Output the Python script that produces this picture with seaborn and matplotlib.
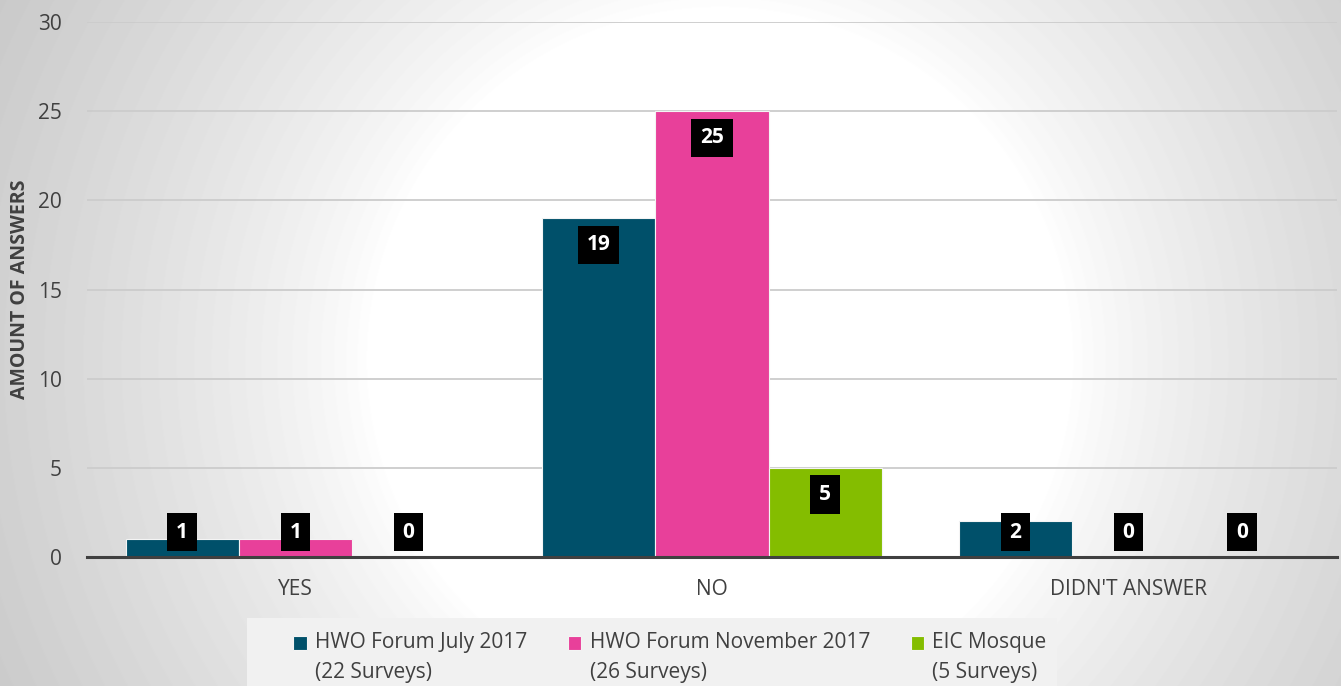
import numpy as np
import pandas as pd
import matplotlib.pyplot as plt
import seaborn as sns
from matplotlib.patches import Rectangle
from matplotlib.legend_handler import HandlerPatch

categories = ["YES", "NO", "DIDN'T ANSWER"]
series = ["HWO Forum July 2017\n(22 Surveys)",
          "HWO Forum November 2017\n(26 Surveys)",
          "EIC Mosque\n(5 Surveys)"]
july_2017 = [1, 19, 2]
november_2017 = [1, 25, 0]
eic_mosque = [0, 5, 0]

colors = ["#00506A", "#E8409A", "#84BD00"]

df = pd.DataFrame({
    "answer": categories * 3,
    "survey": [series[0]] * 3 + [series[1]] * 3 + [series[2]] * 3,
    "count": july_2017 + november_2017 + eic_mosque,
})

sns.set_theme(style="white")
plt.rcParams["font.family"] = ["Open Sans", "DejaVu Sans"]

W, H = 1341, 686
fig = plt.figure(figsize=(W / 100, H / 100), dpi=100)

# radial background: white plateau, greying towards the corners
bg = fig.add_axes([0, 0, 1, 1], zorder=-10)
px, py = np.meshgrid(np.arange(W), np.arange(H))
dist = np.hypot(px - 720, py - 360)
t = np.clip((dist - 350) / 430, 0, None)
shade = np.clip(1 - 0.2 * t ** 0.8, 0, 1)
bg.imshow(shade, cmap="gray", vmin=0, vmax=1, aspect="auto", extent=[0, 1, 0, 1], origin="upper")
bg.add_patch(Rectangle((247 / W, 0), 810 / W, 68 / H, transform=bg.transAxes,
                       facecolor="#f1f1f1", edgecolor="none"))
bg.set_xlim(0, 1)
bg.set_ylim(0, 1)
bg.set_axis_off()

ax = fig.add_axes([87 / W, 129 / H, 1250 / W, 535 / H])
ax.set_facecolor("none")

sns.barplot(data=df, x="answer", y="count", hue="survey", hue_order=series,
            palette=colors, saturation=1, width=0.815, ax=ax, edgecolor="#f4f4f4",
            linewidth=0.8, zorder=3, legend=True)

ax.set_ylim(0, 30)
ax.set_xlim(-0.5, 2.5)
ax.set_yticks(range(0, 31, 5))
ax.yaxis.grid(True, color="#cccccc", linewidth=1.3, zorder=0)
ax.set_axisbelow(True)
for s in ["top", "right", "left"]:
    ax.spines[s].set_visible(False)
ax.spines["bottom"].set_color("#404040")
ax.spines["bottom"].set_linewidth(2.2)
ax.spines["bottom"].set_zorder(5)
ax.tick_params(axis="y", length=0, pad=18, labelsize=15, labelcolor="#404040")
ax.tick_params(axis="x", length=0, pad=16, labelsize=15, labelcolor="#404040")
ax.set_xlabel("")
ax.set_ylabel("AMOUNT OF ANSWERS", fontsize=14, fontweight="bold", color="#404040", labelpad=6)

# data labels: black boxes with white bold text
for cont, vals in zip(ax.containers, [july_2017, november_2017, eic_mosque]):
    for bar, v in zip(cont, vals):
        xc = bar.get_x() + bar.get_width() / 2
        yl = max(v - 1.5, 1.4)
        ax.text(xc, yl, str(v), ha="center", va="center", color="white",
                fontsize=15, fontweight="bold", zorder=6,
                bbox=dict(boxstyle="square,pad=0.42", facecolor="black", edgecolor="none"))


def top_square(legend, orig_handle, xdescent, ydescent, width, height, fontsize):
    # put the swatch next to the first line of a two-line label
    return Rectangle((-xdescent, -ydescent + 0.72 * fontsize), width, height)


handles, labels = ax.get_legend_handles_labels()
ax.get_legend().remove()
leg = fig.legend(handles, labels, loc="upper left", bbox_to_anchor=(293 / W, 1 - 632 / H),
                 ncol=3, frameon=False, fontsize=15, handlelength=0.65, handleheight=0.65,
                 handletextpad=0.4, columnspacing=1.95, borderpad=0, borderaxespad=0,
                 handler_map={h: HandlerPatch(patch_func=top_square) for h in handles})
for t_ in leg.get_texts():
    t_.set_color("#404040")
    t_.set_linespacing(1.55)

fig.savefig("out.png", dpi=100)
